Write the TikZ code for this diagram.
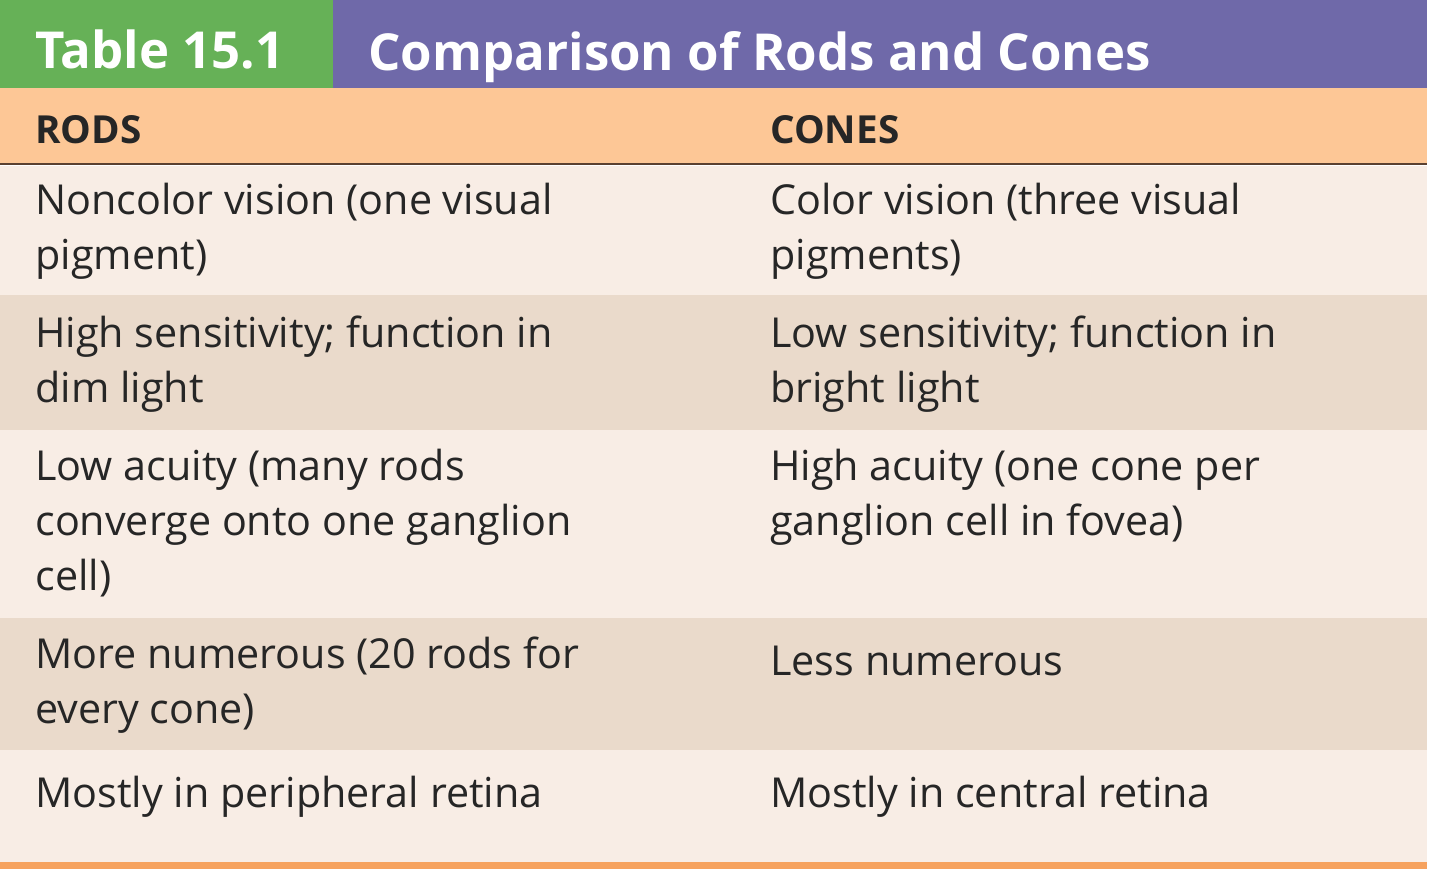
\documentclass[tikz,border=0pt]{standalone}
\usepackage{fontspec}
\setmainfont{Open Sans}
\definecolor{titlegreen}{HTML}{66B157}
\definecolor{titlepurple}{HTML}{6F69A9}
\definecolor{headorange}{HTML}{FDC796}
\definecolor{rowlight}{HTML}{F8EDE5}
\definecolor{rowdark}{HTML}{EADACB}
\definecolor{ruleorange}{HTML}{F6A25E}
\definecolor{rulebrown}{HTML}{5A4030}
\tikzset{
    celltext/.style={
        anchor=north west,
        inner sep=0,
        align=left,
        font=\fontsize{23.5}{31.3}\selectfont,
        execute at begin node=\strut,
        text=black!85
    },
    headtext/.style={
        anchor=base west,
        inner sep=0,
        font=\fontsize{22}{24}\selectfont\bfseries,
        text=black!85
    },
    titletext/.style={
        anchor=base west,
        inner sep=0,
        font=\fontsize{29}{32}\selectfont\bfseries,
        text=white
    }
}
\begin{document}
\begin{tikzpicture}[x=0.02cm,y=-0.02cm]
    \useasboundingbox (0,0) rectangle (1440,869);
    \fill[white] (0,0) rectangle (1440,869);
    % title bar
    \fill[titlegreen] (0,0) rectangle (333,88);
    \fill[titlepurple] (333,0) rectangle (1427,88);
    \node[titletext] (tnum) at (35,68) {Table 15.1};
    \node[titletext] (ttitle) at (368,70) {Comparison of Rods and Cones};
    % header
    \fill[headorange] (0,88) rectangle (1427,163);
    \draw[rulebrown, line width=1.2pt] (0,164) -- (1427,164);
    \node[headtext] (hrods) at (35,143) {RODS};
    \node[headtext] (hcones) at (770,143) {CONES};
    % rows
    \fill[rowlight] (0,166) rectangle (1427,295);
    \fill[rowdark] (0,295) rectangle (1427,430);
    \fill[rowlight] (0,430) rectangle (1427,618);
    \fill[rowdark] (0,618) rectangle (1427,750);
    \fill[rowlight] (0,750) rectangle (1427,862);
    \fill[ruleorange] (0,862) rectangle (1427,869);
    \node[celltext] (r1l) at (35,183) {Noncolor vision (one visual\\pigment)};
    \node[celltext] (r1r) at (770,183) {Color vision (three visual\\pigments)};
    \node[celltext] (r2l) at (35,316) {High sensitivity; function in\\dim light};
    \node[celltext] (r2r) at (770,316) {Low sensitivity; function in\\bright light};
    \node[celltext] (r3l) at (35,449) {Low acuity (many rods\\converge onto one ganglion\\cell)};
    \node[celltext] (r3r) at (770,449) {High acuity (one cone per\\ganglion cell in fovea)};
    \node[celltext] (r4l) at (35,637) {More numerous (20 rods for\\every cone)};
    \node[celltext] (r4r) at (770,637) {Less numerous};
    \node[celltext] (r5l) at (35,769) {Mostly in peripheral retina};
    \node[celltext] (r5r) at (770,769) {Mostly in central retina};
\end{tikzpicture}
\end{document}
